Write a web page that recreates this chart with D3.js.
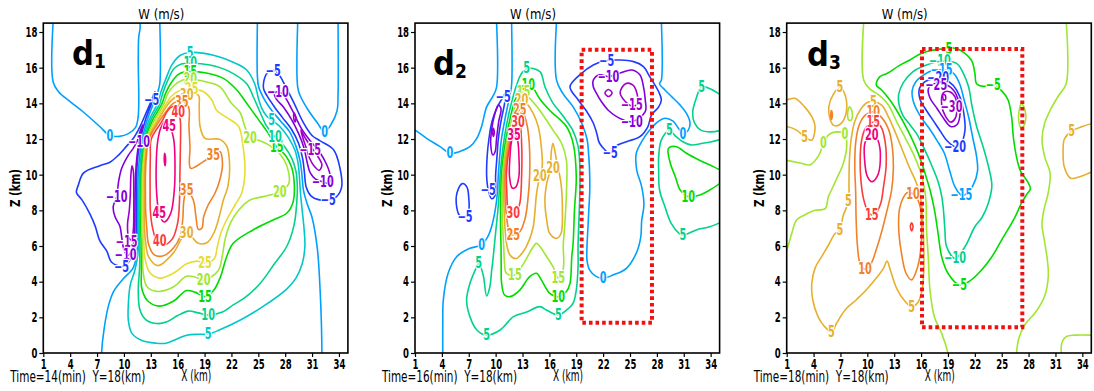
<!DOCTYPE html>
<html><head><meta charset="utf-8">
<script src="https://cdn.jsdelivr.net/npm/d3@7"></script>
<style>
html,body{margin:0;padding:0;background:#fff;}
svg{display:block;}
text{font-family:'Liberation Sans Narrow','DejaVu Sans Condensed','Arial Narrow',sans-serif;}
</style></head><body>
<svg id="c" width="1094" height="391"></svg>
<script>
// ---------------- DATA ----------------
const xTicks = [1,4,7,10,13,16,19,22,25,28,31,34];
const zTicks = [0,2,4,6,8,10,12,14,16,18];
const panelTimes = ["14","16","18"];
const panelNames = ["1","2","3"];

const d1Levels = [-15,-10,-5,0,5,10,15,20,25,30,35,40,45,50];
const d2Levels = [-15,-10,-5,0,5,10,15,20,25,30,35];
const d3Levels = [-30,-25,-20,-15,-10,-5,0,5,10,15,20];

// [level, closed, points [x(km), z(km)]]
const d1Lines = [
 [0,false,[[2.1,18.6],[2.1,15.2],[2.7,14.65],[4.0,14.1],[5.5,13.5],[7.3,12.7],[8.4,12.2],[9.5,12.15],[10.5,12.3],[11.3,12.65],[11.6,13.3],[11.6,16.5],[11.65,17.7],[11.8,18.2],[11.8,18.6]]],
 [0,false,[[14.0,18.6],[14.0,15.1],[13.75,14.6],[13.3,14.0],[12.55,13.0],[12.05,12.0],[11.75,11.0],[11.6,10],[11.55,9],[11.5,8],[11.5,7],[11.5,6],[11.4,5.4],[11.0,4.75],[9.9,4.15],[8.9,3.5],[8.3,2.7],[7.8,1.4],[7.5,0],[7.5,-0.3]]],
 [0,false,[[24.9,18.6],[24.9,15.5],[25.05,14.9],[25.7,14.2],[26.5,13.6],[27.5,13.0],[28.5,12.4],[29.2,11.6],[29.65,10.8],[29.85,10.1],[30.05,9.1],[30.5,8.3],[31.0,7.6],[31.6,5.8],[31.9,3.5],[32.05,1.5],[32.1,0],[32.1,-0.3]]],
 [0,false,[[29.4,18.6],[29.4,14.9],[29.7,14.4],[30.6,13.6],[31.6,12.9],[32.4,12.4],[33.1,12.8],[33.8,13.6],[33.9,14.5],[33.9,18.6]]],
 [-5,true,[[13.55,14.55],[13.1,14.0],[12.35,13.0],[11.85,12.0],[11.55,11.0],[11.42,10],[11.38,9],[11.37,8],[11.37,7],[11.32,6.3],[11.05,5.6],[10.5,5.08],[9.75,4.85],[8.6,5.1],[8.1,5.7],[7.3,6.3],[6.8,7.1],[6.2,7.8],[5.3,8.6],[4.7,9.0],[4.9,9.4],[5.5,10.1],[7.3,10.5],[8.44,10.7],[9.4,11.1],[10.3,11.6],[11.0,12.0],[11.8,12.7],[12.5,13.5],[13.1,14.2],[13.45,14.65]]],
 [-10,true,[[12.1,12.8],[11.75,12.35],[11.5,11.9],[11.0,11.45],[10.5,11.1],[9.75,10.36],[9.4,9.6],[9.2,8.77],[8.8,8.2],[9.0,7.65],[9.56,7.1],[9.75,6.5],[10.0,5.8],[10.4,5.45],[10.85,5.75],[11.1,6.35],[11.2,7],[11.22,8],[11.25,9],[11.3,10],[11.45,11.0],[11.7,11.9],[11.95,12.45]]],
 [-15,true,[[10.55,6.45],[10.85,6.35],[11.05,6.9],[11.1,8.0],[11.1,9.2],[11.05,10.2],[10.9,10.5],[10.78,10.0],[10.72,9.0],[10.6,8.0],[10.4,7.2]]],
 [-5,true,[[25.6,15.2],[26.0,15.7],[26.67,15.85],[27.3,15.6],[28.0,15.0],[29.0,14.0],[30.0,12.95],[31.0,12.2],[31.9,11.9],[33.4,11.4],[34.1,10.4],[34.3,9.3],[33.7,8.75],[32.8,8.58],[31.7,8.6],[30.9,8.8],[30.35,9.3],[30.15,10.1],[29.95,10.9],[29.5,11.75],[28.7,12.55],[27.7,13.2],[26.8,13.8],[26.0,14.4],[25.6,14.8]]],
 [-10,true,[[26.8,14.55],[27.2,14.65],[27.9,14.4],[28.8,13.6],[29.8,12.6],[30.8,11.9],[31.8,11.3],[32.6,10.6],[33.0,10.0],[32.9,9.5],[32.2,9.6],[31.4,9.75],[30.8,10.1],[30.45,10.7],[30.1,11.5],[29.5,12.3],[28.7,13.1],[27.8,13.8],[27.0,14.25]]],
 [-15,true,[[29.75,12.5],[30.3,12.0],[30.9,11.55],[31.6,11.05],[32.1,10.55],[31.8,10.25],[31.2,10.5],[30.7,10.95],[30.35,11.5],[29.95,12.1]]],
 [-15,true,[[29.0,13.45],[29.2,13.2],[29.1,12.95],[28.95,13.2]]],
 [5,true,[[17.4,16.85],[19.97,16.7],[22.2,16.3],[23.7,15.87],[24.6,15.1],[25.0,14.3],[25.4,13.7],[26.0,13.25],[26.5,13.07],[27.4,12.7],[28.4,12.05],[29.1,11.35],[29.45,10.6],[29.6,9.8],[29.7,9.0],[29.9,8.0],[30.1,7.0],[30.2,6.0],[29.9,5.0],[29.2,4.2],[28.2,3.6],[25.5,2.6],[23.0,1.85],[20.7,1.3],[19.4,1.06],[18.3,1.05],[17.0,1.0],[16.0,0.8],[14.7,0.55],[13.6,0.55],[12.0,0.7],[10.9,1.1],[10.5,1.8],[10.5,2.8],[10.7,3.8],[11.2,4.6],[11.55,5.5],[11.6,6.0],[11.63,7],[11.65,8],[11.68,9],[11.75,10],[11.9,11],[12.2,12],[12.75,13],[13.75,14],[14.1,14.6],[14.7,15.4],[15.4,16.2],[16.3,16.7]]],
 [10,true,[[17.4,16.25],[19.6,16.15],[21.8,15.78],[23.7,15.1],[24.5,14.3],[25.2,13.5],[25.9,12.75],[26.86,12.13],[27.9,11.6],[28.75,10.9],[29.2,10.2],[29.35,9.4],[29.3,8.5],[29.0,7.2],[28.2,6.0],[26.8,5.0],[25.2,3.9],[23.5,3.1],[22.2,2.7],[21.0,2.3],[19.4,2.13],[18.3,2.25],[17.2,2.35],[16.0,2.1],[14.8,1.75],[13.7,1.65],[12.5,1.85],[11.8,2.4],[11.6,3.5],[11.75,4.8],[11.78,6],[11.76,7],[11.78,8],[11.8,9],[11.85,10],[12.0,11],[12.3,12],[12.95,13],[14.0,14],[14.35,14.6],[14.9,15.3],[15.6,15.95],[16.4,16.2]]],
 [15,true,[[17.4,15.78],[19.2,15.7],[21.1,15.4],[22.6,14.75],[23.7,14.0],[25.0,13.1],[26.0,12.4],[27.05,11.57],[28.0,11.1],[28.7,10.45],[29.0,9.6],[28.9,8.5],[28.2,7.85],[26.65,7.46],[24.4,6.9],[22.2,6.15],[21.4,5.3],[20.8,4.3],[20.0,3.5],[19.05,3.16],[18.0,3.4],[17.0,3.5],[15.5,2.9],[14.0,2.63],[12.7,2.9],[12.0,3.6],[11.95,4.6],[11.95,6],[11.88,7],[11.9,8],[11.92,9],[11.95,10],[12.1,11],[12.4,12],[13.15,13],[14.25,14],[14.6,14.5],[15.2,15.1],[16.0,15.6],[16.7,15.75]]],
 [20,true,[[17.4,15.35],[19.2,15.2],[20.7,14.94],[22.0,14.0],[22.95,13.5],[23.5,12.7],[24.07,12.04],[25.2,11.9],[26.67,11.5],[27.8,10.9],[28.4,10.1],[28.4,9.5],[27.4,9.05],[25.55,8.77],[24.07,8.58],[22.8,8.0],[21.9,7.3],[21.3,6.4],[21.0,5.5],[20.5,4.6],[18.9,4.1],[18.0,4.25],[17.0,4.3],[15.5,3.7],[13.8,3.45],[12.6,3.7],[12.15,4.5],[12.1,5.5],[12.0,7],[12.02,8],[12.03,9],[12.05,10],[12.2,11],[12.5,12],[13.35,13],[14.5,14],[14.85,14.5],[15.6,15.0],[16.5,15.3]]],
 [25,true,[[17.56,14.8],[18.86,14.66],[19.8,14.2],[20.35,13.6],[21.5,13.2],[22.8,12.7],[23.3,11.57],[23.5,10.08],[23.14,8.96],[22.4,8.3],[21.5,7.5],[20.8,6.7],[20.4,5.9],[20.1,5.3],[19.05,5.03],[18.2,5.15],[17.0,5.0],[15.6,4.5],[14.0,4.2],[12.9,4.5],[12.35,5.3],[12.2,6.5],[12.14,8],[12.14,9],[12.15,10],[12.3,11],[12.6,12],[13.55,13],[14.75,14],[15.3,14.4],[16.2,14.7]]],
 [30,true,[[17.0,14.47],[18.3,14.47],[18.4,13.8],[18.5,12.7],[19.05,12.04],[20.7,11.98],[21.5,11.57],[21.8,10.45],[21.6,9.33],[21.1,8.58],[20.64,7.65],[20.1,6.8],[19.3,6.2],[18.3,6.15],[17.0,6.75],[15.5,5.6],[13.8,4.9],[12.75,5.4],[12.4,6.3],[12.3,7],[12.27,8],[12.27,9],[12.28,10],[12.4,11],[12.7,12],[13.75,13],[15.0,14],[15.6,14.3],[16.2,14.45]]],
 [35,true,[[16.45,14.1],[17.2,13.8],[17.26,12.7],[17.37,11.57],[17.45,10.36],[18.86,10.73],[19.97,11.1],[20.7,11.3],[21.0,10.6],[20.7,9.7],[20.16,8.96],[19.4,8.3],[18.9,7.65],[18.7,7.0],[18.3,6.94],[18.04,7.65],[17.74,8.58],[17.0,9.14],[16.7,8.58],[16.56,7.46],[16.26,6.5],[15.5,5.87],[14.4,5.45],[13.4,5.5],[12.75,6.1],[12.55,7],[12.42,8],[12.4,9],[12.4,10],[12.5,11],[12.8,12],[13.95,13],[14.8,13.6],[15.5,14.0]]],
 [40,true,[[15.5,13.82],[16.07,13.55],[16.3,13.0],[16.3,11.5],[16.25,10],[16.2,8.5],[16.0,7.3],[15.4,6.4],[14.4,6.05],[13.7,6.25],[13.2,7.0],[12.95,8],[12.92,9],[12.92,10],[12.95,11],[13.05,12],[14.25,13],[14.9,13.6]]],
 [45,true,[[14.6,13.0],[15.06,12.75],[15.55,12.0],[15.7,10.5],[15.6,9.0],[15.2,7.8],[14.5,7.35],[13.95,7.8],[13.65,9.0],[13.6,10.5],[13.75,11.8],[14.1,12.6]]],
 [50,true,[[14.55,11.2],[14.65,10.9],[14.6,10.5],[14.5,10.8]]]
];
const d1Labels = [
 [5,17.4,16.85],[10,17.4,16.25],[15,17.4,15.78],[20,17.4,15.35],[25,17.56,14.8],[30,17.0,14.47],[35,16.45,14.1],[40,16.07,13.5],[45,15.06,12.75],
 [45,13.95,7.83],[40,14.0,6.3],[35,19.97,11.1],[35,17.0,9.14],[30,17.0,6.75],[25,19.05,5.03],[20,18.9,4.1],[15,19.05,3.16],[10,19.4,2.13],[5,19.4,1.06],
 [20,24.07,12.04],[20,27.4,9.05],[15,27.05,11.57],[10,26.86,12.13],[5,26.5,13.07],
 [-5,26.67,15.8],[-10,27.2,14.65],[-15,30.8,11.4],[-10,32.2,9.6],[-5,32.8,8.58],
 [0,8.43,12.15],[0,32.4,12.4],[-5,13.1,14.2],[-10,11.7,11.85],[-10,9.2,8.77],[-15,10.3,6.2],[-10,10.2,5.5],[-5,9.75,4.85]
];

const d2Lines = [
 [0,false,[[0.7,12.55],[1,12.5],[2.3,12.04],[3.8,11.57],[4.9,11.2],[6.0,11.3],[7.13,11.57],[7.9,12.04],[8.43,12.7],[9.0,13.8],[9.7,14.4],[10.1,14.9],[10.1,18.6]]],
 [0,false,[[11.78,18.6],[11.78,15.0],[11.6,14.5],[11.4,14.0],[11.0,13.0],[10.65,12.0],[10.45,11.0],[10.3,10.0],[10.2,9.0],[9.95,8.0],[9.5,7.0],[9.1,6.5],[8.43,6.06],[7.13,5.87],[5.65,5.4],[4.7,4.47],[4.16,2.97],[4.1,1.66],[4.1,-0.3]]],
 [-5,true,[[6.3,9.5],[6.8,9.3],[7.0,8.7],[7.0,8.0],[6.6,7.64],[6.0,7.7],[5.65,8.2],[5.7,9.0]]],
 [-5,true,[[11.1,14.55],[10.85,14.37],[10.2,13.8],[9.6,13.0],[9.25,12.0],[9.05,11.0],[9.0,9.9],[9.18,9.14],[9.55,8.65],[9.9,8.8],[10.0,10.0],[10.15,11.0],[10.3,12.0],[10.6,13.0],[11.0,14.0]]],
 [-10,true,[[10.3,13.9],[9.85,13.3],[9.55,12.5],[9.45,11.7],[9.7,11.1],[9.95,11.3],[10.1,12.0],[10.35,13.0],[10.6,13.7]]],
 [-15,true,[[9.75,12.6],[9.85,12.35],[9.75,12.15],[9.65,12.4]]],
 [5,true,[[13.45,15.96],[14.94,15.78],[15.5,14.93],[16.3,14.1],[17.5,13.3],[18.6,12.5],[19.2,11.6],[19.4,10.5],[19.4,9.0],[19.3,7.5],[19.2,6.0],[19.2,4.84],[19.0,3.53],[18.65,2.8],[17.9,2.4],[17.0,2.13],[15.7,2.4],[14.94,2.6],[13.45,2.3],[12.0,2.04],[10.5,1.29],[9.0,1.0],[7.9,1.29],[7.13,2.04],[6.76,2.97],[7.13,3.9],[7.9,4.84],[8.1,5.03],[8.6,4.4],[9.0,3.2],[9.35,3.7],[9.55,4.6],[9.65,5.0],[9.85,6.0],[10.05,7.0],[10.25,8.0],[10.4,9.0],[10.5,10.0],[10.7,11.0],[10.95,12.0],[11.3,13.0],[11.75,14.0],[12.2,14.8],[12.8,15.6]]],
 [10,true,[[13.64,15.03],[14.2,14.84],[15.0,14.2],[16.05,13.6],[17.9,12.7],[18.65,11.76],[19.0,9.9],[18.8,8.0],[18.65,6.15],[18.5,5.4],[18.3,3.9],[17.9,3.45],[17.0,3.16],[16.05,3.35],[15.1,4.1],[14.57,4.47],[13.8,4.28],[12.7,3.53],[11.6,3.16],[11.0,3.25],[10.67,3.9],[10.62,5.0],[10.6,6.0],[10.55,7.0],[10.55,8.0],[10.58,9.0],[10.65,10.0],[10.85,11.0],[11.15,12.0],[11.55,13.0],[12.05,14.0],[12.6,14.7],[13.1,15.0]]],
 [15,true,[[13.1,14.65],[13.64,14.37],[14.3,14.0],[14.94,13.6],[16.4,12.5],[17.36,11.76],[17.9,10.8],[17.9,8.95],[17.7,7.08],[17.55,6.0],[17.6,5.0],[17.4,4.4],[17.0,4.19],[16.4,4.84],[15.7,5.4],[14.57,6.15],[14.2,5.96],[13.1,5.0],[12.15,4.37],[11.2,4.47],[11.0,5.0],[10.9,6.0],[10.8,7.0],[10.75,8.0],[10.75,9.0],[10.8,10.0],[11.0,11.0],[11.3,12.0],[11.75,13.0],[12.3,14.0],[12.7,14.5]]],
 [20,true,[[12.9,14.19],[13.45,14.0],[14.2,13.44],[14.75,12.7],[15.1,11.57],[15.2,10.45],[14.94,9.95],[14.57,8.95],[14.4,8.0],[14.2,7.08],[13.8,6.4],[13.1,5.7],[12.3,5.3],[11.6,5.5],[11.2,6.2],[11.05,7.0],[10.95,8.0],[10.9,9.0],[10.92,10.0],[11.12,11.0],[11.45,12.0],[11.95,13.0],[12.4,13.8]]],
 [20,true,[[16.4,11.76],[16.8,10.8],[17.3,9.5],[17.45,8.0],[17.3,6.7],[16.8,6.43],[16.05,6.7],[15.7,7.46],[15.5,8.6],[15.7,9.5],[16.1,10.3],[16.2,11.2]]],
 [25,true,[[12.7,13.63],[13.1,13.44],[13.5,12.8],[13.75,11.8],[13.8,10.0],[13.6,8.6],[13.27,7.5],[12.7,6.8],[11.97,6.6],[11.5,6.8],[11.4,7.0],[11.15,8.0],[11.05,9.0],[11.05,10.0],[11.25,11.0],[11.6,12.0],[12.1,13.0],[12.45,13.45]]],
 [30,true,[[12.5,12.97],[12.7,12.88],[12.9,11.76],[12.9,9.9],[12.7,8.4],[12.3,7.9],[11.97,7.83],[11.55,7.95],[11.4,8.0],[11.25,9.0],[11.2,10.0],[11.38,11.0],[11.75,12.0],[12.2,12.8]]],
 [35,true,[[12.05,12.3],[12.45,11.9],[12.6,11.0],[12.6,9.9],[12.25,9.3],[11.85,9.25],[11.55,9.9],[11.6,11.0],[11.78,11.9]]],
 [0,false,[[16.8,18.6],[16.8,15.3],[17.5,14.56],[18.65,13.8],[19.6,12.9],[20.2,12.0],[20.4,11.0],[20.5,10.0],[20.5,9.0],[20.4,8.0],[20.3,7.0],[20.2,6.0],[20.2,5.2],[20.5,4.65],[21.2,4.3],[22.0,4.19],[23.1,4.37],[24.6,4.75],[25.7,5.6],[26.2,6.5],[26.3,7.4],[26.55,8.3],[26.3,9.33],[25.75,10.26],[25.7,11.2],[26.3,11.85],[27.2,12.5],[28.2,13.0],[28.9,13.16],[29.8,13.0],[30.4,12.6],[30.9,12.3],[31.5,12.5],[31.7,12.9],[31.3,13.44],[30.6,13.9],[29.6,14.4],[28.9,14.75],[28.3,15.1],[28.5,15.3],[28.5,18.6]]],
 [-5,true,[[22.4,16.4],[25.4,16.34],[26.5,16.06],[27.2,15.5],[28.2,14.65],[28.5,14.2],[28.2,13.8],[27.4,13.35],[27.0,12.7],[26.1,12.13],[24.6,11.85],[23.3,11.57],[22.8,11.2],[21.6,11.76],[21.3,12.3],[20.9,12.9],[20.1,13.6],[19.2,14.2],[18.3,14.93],[19.4,15.6],[20.9,16.15]]],
 [-10,true,[[21.6,15.6],[22.6,15.5],[23.9,15.7],[25.2,15.87],[26.1,15.6],[26.5,14.94],[26.7,14.2],[26.7,13.53],[25.2,12.97],[23.7,13.2],[22.6,13.6],[21.8,14.1],[21.26,14.56],[20.9,14.93],[20.9,15.3]]],
 [-15,true,[[23.9,14.6],[24.5,15.1],[25.3,15.03],[25.8,14.5],[25.8,13.95],[25.2,13.85],[24.4,14.15]]],
 [-15,true,[[22.2,14.58],[22.6,14.78],[23.0,14.58],[22.6,14.38]]],
 [5,false,[[35.3,14.4],[34.0,14.8],[33.0,14.94],[32.4,14.3],[32.0,13.5],[32.2,12.9],[32.9,12.5],[34.0,12.4],[35.3,12.5]]],
 [5,false,[[35.3,12.0],[34.1,11.85],[33.1,11.76],[31.8,11.67],[30.9,11.85],[30.0,12.2],[29.4,12.5],[28.5,11.95],[28.2,11.0],[28.2,10.26],[28.3,9.14],[28.9,8.2],[29.6,7.27],[30.5,6.7],[30.9,6.6],[32.4,6.9],[33.9,7.08],[35.3,7.36]]],
 [10,false,[[35.3,10.2],[34.3,10.45],[32.8,10.8],[31.3,11.2],[30.2,11.57],[29.3,11.48],[29.5,10.64],[30.05,9.9],[30.6,9.14],[31.5,8.77],[32.8,8.86],[33.9,9.14],[35.3,9.6]]]
];
const d2Labels = [
 [0,4.9,11.2],[-5,10.85,14.37],[-5,9.18,9.14],[-5,6.6,7.64],[0,8.43,6.06],[5,8.1,5.03],[5,9.0,1.0],
 [5,13.45,15.96],[10,13.64,15.03],[15,13.1,14.65],[20,12.9,14.19],[25,12.7,13.63],[30,12.5,12.97],[35,12.05,12.2],
 [30,11.97,7.83],[25,11.97,6.6],[20,14.94,9.95],[20,16.4,10.36],[15,12.15,4.37],[15,17.0,4.19],[10,17.0,3.16],[5,17.0,2.13],
 [0,22.0,4.19],[-5,22.4,16.4],[-10,22.6,15.5],[-15,25.2,13.9],[-10,25.2,12.97],[-5,22.8,11.2],
 [5,33.0,14.94],[0,30.9,12.3],[5,29.4,12.5],[10,31.5,8.77],[5,30.9,6.6]
];
const d2Box = [19.6,27.45,1.7,17.0];

const d3Lines = [
 [0,false,[[9.6,18.6],[9.6,15.3],[10.3,14.8],[11.2,14.5],[12.3,13.95],[13.3,12.95],[14.3,12.0],[15.2,11.1],[15.9,10.2],[16.35,9.3],[16.55,8.5],[16.6,7.0],[16.8,5.4],[17.0,3.5],[17.5,2.0],[18.3,1.1],[19.0,0],[19.1,-0.3]]],
 [0,false,[[0.7,10.8],[1,10.8],[2.5,10.65],[3.6,10.55],[4.6,11.1],[5.1,11.76],[5.7,12.25],[6.6,12.4],[7.5,12.3],[7.7,11.6],[7.3,10.6],[6.6,9.8],[6.0,9.14],[5.65,8.77],[5.3,8.1],[4.16,8.0],[3.0,7.74],[2.1,7.46],[1.56,6.7],[1,5.78],[0.7,5.5]]],
 [0,true,[[8.0,13.8],[8.3,13.55],[8.25,13.1],[7.95,13.05],[7.8,13.4]]],
 [0,false,[[32.2,18.6],[32.2,15.1],[31.3,14.4],[30.4,13.6],[29.8,12.9],[29.5,12.0],[29.8,11.0],[30.4,10.1],[30.2,9.0],[29.7,8.0],[29.5,7.2],[29.8,6.2],[30.1,5.2],[30.2,4.3],[29.8,3.2],[28.8,2.3],[27.6,1.6],[26.9,0.8],[26.65,0],[26.6,-0.3]]],
 [0,true,[[27.2,14.0],[27.6,13.6],[27.6,12.9],[27.2,12.6],[26.9,13.0],[26.95,13.6]]],
 [0,false,[[31.7,-0.3],[31.7,0.54],[32.2,0.92],[33.2,1.0],[35.3,1.0]]],
 [5,false,[[0.7,14.2],[1,14.2],[1.9,14.28],[3.0,13.8],[3.8,13.25],[4.16,12.7],[3.8,11.94],[3.0,12.13],[2.1,12.5],[1,12.7],[0.7,12.7]]],
 [5,true,[[6.95,14.9],[7.5,14.5],[7.7,13.7],[7.4,13.1],[6.9,12.8],[6.3,12.75],[5.85,13.1],[5.7,13.8],[6.2,14.5]]],
 [10,true,[[6.0,13.6],[6.1,13.35],[6.0,13.1],[5.92,13.35]]],
 [5,true,[[10.67,14.1],[11.6,13.9],[12.4,13.2],[13.1,12.4],[13.9,11.4],[14.7,10.4],[15.5,9.5],[16.0,8.5],[16.2,7.3],[16.3,6.0],[16.3,4.6],[16.1,3.5],[15.6,2.8],[14.94,2.6],[14.2,2.9],[13.3,3.6],[12.6,4.6],[12.2,5.15],[11.8,4.75],[11.0,4.2],[10.0,3.6],[8.8,3.0],[7.5,2.4],[6.6,1.7],[6.0,1.2],[5.2,1.5],[4.5,2.04],[3.9,3.0],[3.8,3.9],[4.2,4.8],[4.9,5.4],[5.6,6.0],[6.4,6.7],[6.95,6.9],[7.3,7.7],[7.9,8.5],[7.95,9.5],[8.0,10.8],[8.2,12.0],[8.6,13.0],[9.3,13.7],[10.0,14.05]]],
 [10,true,[[10.67,13.53],[11.6,13.2],[12.4,12.5],[12.8,11.5],[12.9,10.3],[12.7,9.1],[12.2,8.0],[11.6,6.8],[11.0,5.8],[10.4,5.0],[9.74,4.7],[9.2,5.0],[8.9,6.0],[8.75,7.5],[8.7,9.0],[8.6,10.5],[8.7,11.8],[9.1,12.8],[9.8,13.35]]],
 [15,true,[[10.67,12.95],[11.5,12.7],[12.0,11.8],[12.1,10.5],[11.8,9.3],[11.5,8.4],[10.9,7.8],[10.5,7.74],[10.0,8.0],[9.6,8.6],[9.3,9.6],[9.2,10.8],[9.35,11.9],[9.8,12.6]]],
 [20,true,[[10.5,12.3],[11.2,11.9],[11.45,10.8],[11.1,9.9],[10.5,9.6],[10.0,9.9],[9.7,10.8],[9.75,11.8]]],
 [10,true,[[14.5,9.0],[15.3,8.85],[15.9,8.2],[16.05,7.3],[16.0,6.0],[15.6,4.8],[14.94,4.1],[14.3,4.5],[13.75,5.8],[13.5,7.0],[13.6,8.1],[14.0,8.7]]],
 [15,true,[[14.94,7.3],[15.1,7.1],[14.94,6.85],[14.8,7.1]]],
 [-5,true,[[18.66,17.05],[19.96,17.08],[21.6,16.43],[22.0,15.7],[22.2,15.1],[23.0,14.95],[24.05,15.03],[25.0,14.7],[25.7,14.2],[26.1,13.25],[26.3,12.1],[26.65,11.0],[27.1,10.2],[27.9,9.6],[28.2,9.2],[27.8,8.9],[27.2,8.4],[26.5,7.64],[25.0,6.34],[23.9,5.4],[22.75,4.65],[21.6,4.1],[20.3,3.81],[19.0,4.47],[18.3,5.4],[17.9,6.7],[17.5,8.0],[17.0,9.14],[16.55,9.9],[16.05,10.7],[15.35,11.6],[14.5,12.5],[13.4,13.5],[12.5,14.2],[11.6,14.75],[11.0,15.03],[11.4,15.5],[12.3,15.7],[13.5,16.1],[14.75,16.43],[16.0,16.8],[17.5,17.0]]],
 [-10,true,[[18.1,16.35],[19.96,16.24],[20.7,15.7],[21.3,14.93],[21.7,13.8],[22.2,12.7],[22.9,11.6],[23.5,10.5],[23.9,9.4],[23.5,8.4],[22.8,7.6],[22.0,7.08],[20.9,5.96],[19.8,5.3],[18.85,5.96],[18.66,6.9],[18.5,8.0],[18.3,8.8],[17.9,9.6],[17.2,10.5],[16.4,11.4],[15.5,12.3],[14.6,12.9],[14.0,13.3],[13.55,13.9],[13.5,14.5],[14.0,15.15],[15.1,15.78],[16.6,16.15]]],
 [-15,true,[[18.3,15.87],[19.6,15.7],[20.3,15.1],[20.8,14.2],[21.3,13.25],[21.8,12.0],[22.2,11.0],[22.3,10.2],[21.8,9.4],[21.0,8.9],[20.5,8.85],[19.8,9.3],[19.2,10.2],[18.6,11.2],[17.8,11.9],[16.9,12.6],[15.9,13.3],[15.2,14.0],[15.0,14.7],[15.4,15.2],[16.3,15.6],[17.3,15.85]]],
 [-20,true,[[17.6,15.4],[18.6,15.35],[19.6,15.0],[20.3,14.4],[20.75,13.5],[20.9,12.5],[20.4,11.7],[19.8,11.57],[18.9,11.9],[18.2,12.4],[17.4,13.0],[16.6,13.6],[15.9,14.2],[15.8,14.8],[16.4,15.2]]],
 [-25,true,[[17.2,15.05],[18.5,15.1],[19.6,14.75],[20.2,14.1],[20.35,13.4],[20.0,12.8],[19.3,12.7],[18.6,13.1],[17.8,13.7],[17.0,14.3],[16.8,14.8]]],
 [-30,true,[[18.5,14.6],[19.2,14.65],[19.8,14.35],[20.0,13.8],[19.8,13.15],[19.3,12.95],[18.7,13.3],[18.3,13.9]]],
 [-30,true,[[18.45,14.5],[18.7,14.45],[18.72,14.22],[18.5,14.2]]],
 [5,false,[[35.3,12.9],[34.0,12.7],[32.8,12.45],[32.0,12.0],[31.85,11.2],[32.0,10.4],[32.7,9.8],[33.8,9.9],[35.3,10.2]]]
];
const d3Labels = [
 [5,3.0,12.13],[0,5.1,11.76],[5,6.95,14.9],[0,7.5,12.3],[5,10.67,14.1],[10,10.67,13.53],[15,10.67,12.95],[20,10.5,12.25],
 [15,10.5,7.74],[10,9.74,4.7],[5,7.9,8.5],[5,6.95,6.9],[5,6.0,1.2],[5,14.94,2.6],[10,15.1,8.9],
 [-5,18.66,17.05],[-10,18.1,16.35],[-15,18.3,15.87],[-20,17.9,15.4],[-25,17.7,15.05],[-30,19.4,13.8],[-20,19.8,11.57],
 [-15,20.5,8.85],[-10,19.8,5.3],[-5,20.3,3.81],[-5,24.05,15.03],[5,32.8,12.45]
];
const d3Box = [16.1,27.3,1.45,17.05];

// ---------------- STYLE ----------------
const G = {9:'#a000c8',14:'#8200dc',4:'#1e3cff',11:'#00a0ff',5:'#00c8c8',13:'#00d28c',3:'#00dc00',10:'#a0e632',7:'#e6dc32',12:'#e6af2d',8:'#f08228',2:'#fa3c3c',6:'#f00082'};
const rainbow13 = [9,14,4,11,5,13,3,10,7,12,8,2,6,6].map(k=>G[k]);
const rainbow11 = [9,14,4,11,13,3,10,12,8,2,6].map(k=>G[k]);

const panels = [
 {left:43.3, lines:d1Lines, labels:d1Labels, levels:d1Levels, colors:rainbow13, box:null, letter:[72,65]},
 {left:415.0, lines:d2Lines, labels:d2Labels, levels:d2Levels, colors:rainbow11, box:d2Box, letter:[433,75]},
 {left:786.7, lines:d3Lines, labels:d3Labels, levels:d3Levels, colors:rainbow11, box:d3Box, letter:[807,66]}
];
const PW = 304.6, TOP = 23.1, BOT = 353;
const svg = d3.select('#c');
const fmt = v => v < 0 ? '\u2212' + Math.abs(v) : String(v);
function narrow(sel, f) {
  sel.each(function(){ const L = this.getComputedTextLength(); if (L > 0) d3.select(this).attr('textLength', L*f).attr('lengthAdjust','spacingAndGlyphs'); });
}
function fixLen(sel, L) { sel.attr('textLength', L).attr('lengthAdjust','spacingAndGlyphs'); }

panels.forEach((P, i) => {
  const x = d3.scaleLinear().domain([1,35]).range([P.left, P.left+PW]);
  const z = d3.scaleLinear().domain([0,18.5]).range([BOT, TOP]);
  const col = v => P.colors[Math.max(0, P.levels.indexOf(v))];
  const g = svg.append('g');
  const cid = 'clip'+i;
  svg.append('clipPath').attr('id', cid).append('rect')
    .attr('x', P.left).attr('y', TOP).attr('width', PW).attr('height', BOT-TOP);
  const gc = g.append('g').attr('clip-path', `url(#${cid})`);
  const lineOpen = d3.line().x(d=>x(d[0])).y(d=>z(d[1])).curve(d3.curveCatmullRom.alpha(0.5));
  const lineClosed = d3.line().x(d=>x(d[0])).y(d=>z(d[1])).curve(d3.curveCatmullRomClosed.alpha(0.5));
  gc.selectAll('path.ct').data(P.lines).join('path')
    .attr('class','ct')
    .attr('d', d => (d[1] ? lineClosed : lineOpen)(d[2]))
    .attr('fill','none').attr('stroke', d => col(d[0]))
    .attr('stroke-width', 1.6).attr('stroke-linejoin','round');
  const lbl = gc.selectAll('text.lb').data(P.labels).join('text')
    .attr('class','lb')
    .attr('x', d => x(d[1])).attr('y', d => z(d[2]))
    .attr('text-anchor','middle').attr('dominant-baseline','central')
    .attr('font-size', 15.5).attr('font-weight','bold')
    .attr('fill', d => col(d[0]))
    .attr('stroke','#fff').attr('stroke-width',2.5).attr('paint-order','stroke').attr('stroke-linejoin','round')
    .text(d => fmt(d[0]));
  narrow(lbl, 0.7);
  if (P.box) {
    const b = P.box;
    gc.append('rect')
      .attr('x', x(b[0])).attr('y', z(b[3]))
      .attr('width', x(b[1])-x(b[0])).attr('height', z(b[2])-z(b[3]))
      .attr('fill','none').attr('stroke','#f01010').attr('stroke-width',4)
      .attr('stroke-dasharray','3.6,3');
  }
  g.append('rect').attr('x',P.left).attr('y',TOP).attr('width',PW).attr('height',BOT-TOP)
    .attr('fill','none').attr('stroke','#000').attr('stroke-width',1.6);
  const ax = g.append('g').attr('transform',`translate(0,${BOT})`)
    .call(d3.axisBottom(x).tickValues(xTicks).tickSize(4).tickPadding(2));
  const ay = g.append('g').attr('transform',`translate(${P.left},0)`)
    .call(d3.axisLeft(z).tickValues(zTicks).tickSize(4).tickPadding(2));
  [ax, ay].forEach(a => {
    a.select('.domain').remove();
    a.selectAll('line').attr('stroke','#000').attr('stroke-width',1.2);
    a.selectAll('text').attr('font-size',13.5).attr('font-weight','bold').attr('fill','#000')
      .attr('font-family',"'Liberation Sans Narrow','DejaVu Sans Condensed',sans-serif");
    narrow(a.selectAll('text'), 0.7);
  });
  fixLen(g.append('text').attr('x', P.left+118).attr('y', 19).attr('text-anchor','middle')
    .attr('font-size',14).text('W (m/s)'), 46);
  fixLen(g.append('text').attr('x', P.left+153).attr('y', 381).attr('text-anchor','middle')
    .attr('font-size',15).text('X (km)'), 30);
  fixLen(g.append('text').attr('x', P.left-33).attr('y', 382).attr('font-size',15)
    .attr('xml:space','preserve').text(`Time=${panelTimes[i]}(min)  Y=18(km)`), 135);
  fixLen(g.append('text').attr('transform',`translate(${P.left-23},188) rotate(-90)`)
    .attr('text-anchor','middle').attr('font-size',14.5).attr('font-weight','bold').text('Z (km)'), 38);
  const t = g.append('text').attr('x', P.letter[0]).attr('y', P.letter[1])
    .attr('font-family',"'Liberation Serif','DejaVu Serif',serif").attr('font-weight','bold')
    .attr('font-size',34).attr('fill','#000');
  t.append('tspan').text('d');
  t.append('tspan').attr('font-size',19).attr('dy',3).text(panelNames[i]);
});
</script>
</body></html>
